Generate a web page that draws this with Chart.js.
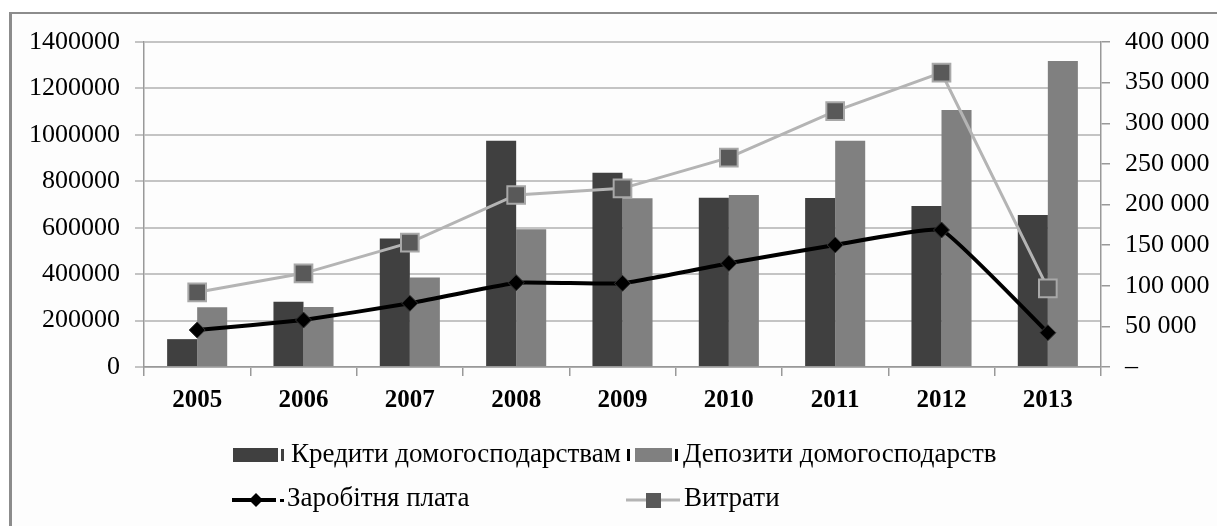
<!DOCTYPE html>
<html><head><meta charset="utf-8">
<script src="https://cdn.jsdelivr.net/npm/chart.js@4.4.1/dist/chart.umd.min.js"></script>
<style>
html,body{margin:0;padding:0;background:#fff;overflow:hidden;}
#frame{position:absolute;left:9px;top:12px;width:1230px;height:540px;border-left:3px solid #8c8c8c;border-top:2px solid #8c8c8c;background:#fdfdfd;}
#wrap{position:absolute;left:0;top:0;width:1217px;height:526px;}
</style></head><body>
<div id="frame"></div>
<div id="wrap"><canvas id="c" width="1217" height="526"></canvas></div>
<script>
const years = ['2005','2006','2007','2008','2009','2010','2011','2012','2013'];
const credits = [120000, 281000, 554000, 975000, 837000, 729000, 728000, 694000, 655000];
const deposits = [257000, 258000, 386000, 593000, 727000, 741000, 975000, 1107000, 1318000];
const wages = [45500, 57800, 78400, 103800, 103000, 127600, 150200, 168600, 42200];
const expenses = [91900, 115300, 153000, 211700, 219900, 257600, 315000, 362200, 96800];
const seriesNames = ['Кредити домогосподарствам','Депозити домогосподарств','Заробітня плата','Витрати'];
const leftTickLabels = ['0','200000','400000','600000','800000','1000000','1200000','1400000'];
const rightTickLabels = ['–','50 000','100 000','150 000','200 000','250 000','300 000','350 000','400 000'];

const FONT = 'Liberation Serif, Times New Roman, serif';

const legendPlugin = {
  id: 'gridLegend',
  afterDraw(chart) {
    const ctx = chart.ctx;
    const ds = chart.data.datasets;
    ctx.save();
    ctx.font = '27px ' + FONT;
    ctx.fillStyle = '#000';
    ctx.textBaseline = 'middle';
    ctx.textAlign = 'left';
    // item 1: bar
    ctx.fillStyle = ds[0].backgroundColor;
    ctx.fillRect(233, 448, 45, 14);
    ctx.fillRect(281, 449, 3, 12);
    ctx.fillStyle = '#000';
    ctx.fillText(ds[0].label, 291, 455);
    // item 2: bar
    ctx.fillRect(627, 449, 3, 12);
    ctx.fillStyle = ds[1].backgroundColor;
    ctx.fillRect(635, 448, 37, 14);
    ctx.fillStyle = '#000';
    ctx.fillRect(675, 449, 3, 12);
    ctx.fillText(ds[1].label, 683, 455);
    // item 3: line + diamond
    ctx.strokeStyle = ds[2].borderColor;
    ctx.lineWidth = 4;
    ctx.beginPath(); ctx.moveTo(232, 500); ctx.lineTo(276, 500); ctx.stroke();
    ctx.fillStyle = '#000';
    ctx.beginPath(); ctx.moveTo(256, 493); ctx.lineTo(263, 500); ctx.lineTo(256, 507); ctx.lineTo(249, 500); ctx.closePath(); ctx.fill();
    ctx.fillRect(280, 499, 4, 3);
    ctx.fillText(ds[2].label, 287, 499);
    // item 4: line + square
    ctx.strokeStyle = ds[3].borderColor;
    ctx.lineWidth = 3;
    ctx.beginPath(); ctx.moveTo(626, 500); ctx.lineTo(680, 500); ctx.stroke();
    ctx.fillStyle = ds[3].pointBackgroundColor;
    ctx.fillRect(646, 493, 15, 15);
    ctx.fillStyle = '#000';
    ctx.fillText(ds[3].label, 684, 499);
    ctx.restore();
  }
};

new Chart(document.getElementById('c'), {
  data: {
    labels: years,
    datasets: [
      { type: 'bar', label: seriesNames[0], data: credits, backgroundColor: '#404040', yAxisID: 'y', order: 2,
        categoryPercentage: 0.565, barPercentage: 1.0 },
      { type: 'bar', label: seriesNames[1], data: deposits, backgroundColor: '#808080', yAxisID: 'y', order: 2,
        categoryPercentage: 0.565, barPercentage: 1.0 },
      { type: 'line', label: seriesNames[2], data: wages, borderColor: '#000000', borderWidth: 4, yAxisID: 'y1', order: 0,
        tension: 0.1, pointStyle: 'rectRot', pointRadius: 8, pointBackgroundColor: '#000000', pointBorderColor: '#333333', pointBorderWidth: 1 },
      { type: 'line', label: seriesNames[3], data: expenses, borderColor: '#b4b4b4', borderWidth: 3, yAxisID: 'y1', order: 1,
        tension: 0, pointStyle: 'rect', pointRadius: 12.5, pointBackgroundColor: '#595959', pointBorderColor: '#a8a8a8', pointBorderWidth: 2 }
    ]
  },
  options: {
    responsive: false,
    animation: false,
    devicePixelRatio: 1,
    layout: { padding: { top: 42, left: 0, right: 0, bottom: 119 } },
    plugins: { legend: { display: false }, tooltip: { enabled: false } },
    scales: {
      x: {
        offset: true,
        grid: { offset: true, drawOnChartArea: false, drawTicks: true, tickLength: 9, color: '#999999', lineWidth: 1.5 },
        border: { display: true, color: '#999999', width: 1.5 },
        ticks: { font: { family: FONT, size: 25, weight: 'bold' }, color: '#000', padding: 10, maxRotation: 0 },
        afterFit(s) { s.height = 40; }
      },
      y: {
        position: 'left', min: 0, max: 1400000,
        ticks: { stepSize: 200000, font: { family: FONT, size: 26 }, color: '#000', padding: 15,
          callback: (v, i) => leftTickLabels[i] },
        grid: { color: '#c4c4c4', lineWidth: 2, tickLength: 9 },
        border: { display: true, color: '#999999', width: 1.5 },
        afterFit(s) { s.width = 144; }
      },
      y1: {
        position: 'right', min: 0, max: 400000,
        ticks: { stepSize: 50000, font: { family: FONT, size: 26 }, color: '#000', padding: 15,
          callback: (v, i) => rightTickLabels[i] },
        grid: { drawOnChartArea: false, color: '#999999', lineWidth: 1.5, tickLength: 9 },
        border: { display: true, color: '#999999', width: 1.5 },
        afterFit(s) { s.width = 116; }
      }
    }
  },
  plugins: [legendPlugin]
});
</script>
</body></html>
